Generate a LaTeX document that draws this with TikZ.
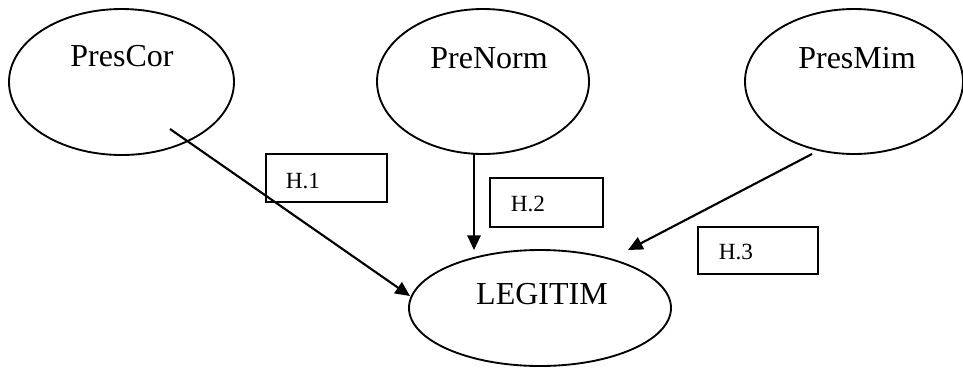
\documentclass[tikz,border=0pt]{standalone}
\usepackage{fontspec}
\setmainfont{Liberation Serif}
\usetikzlibrary{shapes.geometric,arrows.meta}
\begin{document}
\begin{tikzpicture}[x=0.75pt,y=-0.75pt,
  oval/.style={draw,ellipse,line width=1.4pt,inner sep=0pt},
  hbox/.style={draw,rectangle,line width=1.1pt,inner sep=0pt},
  bigtxt/.style={anchor=base,inner sep=0pt,font=\fontsize{24}{28}\selectfont},
  smalltxt/.style={anchor=base,inner sep=0pt,font=\fontsize{17.4}{20}\selectfont},
  arr/.style={line width=1.6pt,-{Triangle[length=11pt,width=10pt]}}]
\useasboundingbox (0,0) rectangle (963,369);
% ellipses
\node[oval,minimum width=168.75pt,minimum height=109.5pt] (prescor) at (121.5,82) {};
\node[oval,minimum width=159pt,minimum height=108.75pt] (prenorm) at (483,81.5) {};
\node[oval,minimum width=163.5pt,minimum height=108.75pt] (presmim) at (854,81.5) {};
\node[oval,minimum width=196.5pt,minimum height=87pt] (legitim) at (540,308) {};
% texts
\node[bigtxt] (tprescor) at (122,66.5) {PresCor};
\node[bigtxt] (tprenorm) at (489,68) {PreNorm};
\node[bigtxt] (tpresmim) at (857,68) {PresMim};
\node[bigtxt] (tlegitim) at (542,304) {LEGITIM};
% boxes
\node[hbox,minimum width=90.75pt,minimum height=36pt] (b1) at (326.5,178) {};
\node[hbox,minimum width=84.75pt,minimum height=36.75pt] (b2) at (546.5,202.5) {};
\node[hbox,minimum width=90pt,minimum height=35.25pt] (b3) at (758,250.5) {};
\node[smalltxt] (t1) at (303,188) {H.1};
\node[smalltxt] (t2) at (528,211) {H.2};
\node[smalltxt] (t3) at (736,259) {H.3};
% connector end points
\coordinate (s1) at (170,129);
\coordinate (e1) at (410,296);
\coordinate (s2) at (474,153);
\coordinate (e2) at (474,250);
\coordinate (s3) at (812,154);
\coordinate (e3) at (628,250);
\draw[arr] (s1) -- (e1);
\draw[arr] (s2) -- (e2);
\draw[arr] (s3) -- (e3);
\end{tikzpicture}
\end{document}
